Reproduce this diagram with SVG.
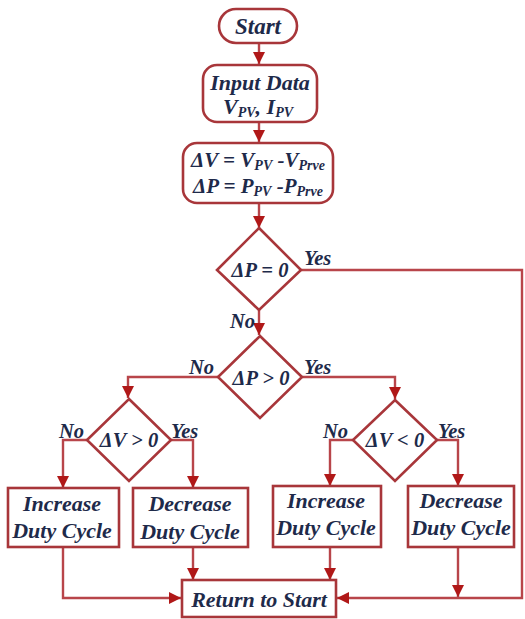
<svg xmlns="http://www.w3.org/2000/svg" width="525" height="619" viewBox="0 0 525 619">
<defs>
<style>
.box{fill:#fff;stroke:#a8363a;stroke-width:2.6}
.ln{fill:none;stroke:#b8454a;stroke-width:2.4}
.t{font-family:"Liberation Serif","Times New Roman",serif;font-weight:bold;font-style:italic;font-size:22px;fill:#1e2a4a}
.d{font-size:20.5px}
.l{font-family:"Liberation Serif","Times New Roman",serif;font-weight:bold;font-style:italic;font-size:20.5px;fill:#1e2a4a}
.s{font-size:14px}
</style>
<marker id="ah" markerUnits="userSpaceOnUse" markerWidth="14" markerHeight="14" refX="12" refY="6" orient="auto">
<path d="M0,0 L12,6 L0,12 Z" fill="#b01818"/>
</marker>
</defs>
<rect width="525" height="619" fill="#fff"/>
<g id="connectors">
<path class="ln" d="M259,43 V64" marker-end="url(#ah)"/>
<path class="ln" d="M259,122 V142" marker-end="url(#ah)"/>
<path class="ln" d="M259,203 V228" marker-end="url(#ah)"/>
<path class="ln" d="M301,270 H522 V598 H337" marker-end="url(#ah)"/>
<path class="ln" d="M259,310 V335" marker-end="url(#ah)"/>
<path class="ln" d="M218,377 H128 V398" marker-end="url(#ah)"/>
<path class="ln" d="M302,377 H395 V399" marker-end="url(#ah)"/>
<path class="ln" d="M87,440 H63 V488" marker-end="url(#ah)"/>
<path class="ln" d="M171,440 H193 V488" marker-end="url(#ah)"/>
<path class="ln" d="M353,440 H330 V486" marker-end="url(#ah)"/>
<path class="ln" d="M437,440 H458 V486" marker-end="url(#ah)"/>
<path class="ln" d="M63,548 V598 H181" marker-end="url(#ah)"/>
<path class="ln" d="M193,548 V580" marker-end="url(#ah)"/>
<path class="ln" d="M330,547 V580" marker-end="url(#ah)"/>
<path class="ln" d="M458,547 V597" marker-end="url(#ah)"/>
<text class="l" x="304" y="265">Yes</text>
<text class="l" x="230" y="328">No</text>
<text class="l" x="189" y="374">No</text>
<text class="l" x="304" y="374">Yes</text>
<text class="l" x="59" y="438">No</text>
<text class="l" x="171" y="438">Yes</text>
<text class="l" x="323" y="438">No</text>
<text class="l" x="438" y="438">Yes</text>
</g>
<g id="start">
<rect class="box" x="219" y="9" width="78" height="34" rx="17"/>
<text class="t" x="258" y="34" text-anchor="middle" style="font-size:23px">Start</text>
</g>
<g id="input">
<rect class="box" x="203" y="65" width="114" height="57" rx="14"/>
<text class="t" x="260" y="90" text-anchor="middle">Input Data</text>
<text class="t" x="258" y="114" text-anchor="middle">V<tspan class="s" dy="3">PV</tspan><tspan dy="-3">, I</tspan><tspan class="s" dy="3">PV</tspan></text>
</g>
<g id="calc">
<rect class="box" x="183" y="143" width="150" height="60" rx="14"/>
<text class="t" x="258" y="167" text-anchor="middle" style="font-size:21px">ΔV = V<tspan class="s" dy="3">PV</tspan><tspan dy="-3"> -V</tspan><tspan class="s" dy="3">Prve</tspan></text>
<text class="t" x="258" y="193" text-anchor="middle" style="font-size:21px">ΔP = P<tspan class="s" dy="3">PV</tspan><tspan dy="-3"> -P</tspan><tspan class="s" dy="3">Prve</tspan></text>
</g>
<g id="d1">
<polygon class="box" points="259,228 301,270 259,310 217,270"/>
<text class="t d" x="260" y="277" text-anchor="middle">ΔP = 0</text>
</g>
<g id="d2">
<polygon class="box" points="260,336 302,377 260,418 218,377"/>
<text class="t d" x="261" y="385" text-anchor="middle">ΔP &gt; 0</text>
</g>
<g id="d3">
<polygon class="box" points="129,399 171,440 129,481 87,440"/>
<text class="t d" x="129" y="447" text-anchor="middle">ΔV &gt; 0</text>
</g>
<g id="d4">
<polygon class="box" points="395,400 437,440 395,481 353,440"/>
<text class="t d" x="395" y="447" text-anchor="middle">ΔV &lt; 0</text>
</g>
<g id="inc1">
<rect class="box" x="8" y="488" width="111" height="59"/>
<text class="t" x="62" y="511" text-anchor="middle">Increase</text>
<text class="t" x="62" y="538" text-anchor="middle">Duty Cycle</text>
</g>
<g id="dec1">
<rect class="box" x="133" y="488" width="115" height="59"/>
<text class="t" x="190" y="511" text-anchor="middle">Decrease</text>
<text class="t" x="190" y="539" text-anchor="middle">Duty Cycle</text>
</g>
<g id="inc2">
<rect class="box" x="273" y="486" width="108" height="61"/>
<text class="t" x="326" y="508" text-anchor="middle">Increase</text>
<text class="t" x="326" y="535" text-anchor="middle">Duty Cycle</text>
</g>
<g id="dec2">
<rect class="box" x="408" y="486" width="106" height="61"/>
<text class="t" x="461" y="508" text-anchor="middle">Decrease</text>
<text class="t" x="461" y="535" text-anchor="middle">Duty Cycle</text>
</g>
<g id="return">
<rect class="box" x="182" y="580" width="154" height="37"/>
<text class="t" x="259" y="607" text-anchor="middle">Return to Start</text>
</g>
</svg>
